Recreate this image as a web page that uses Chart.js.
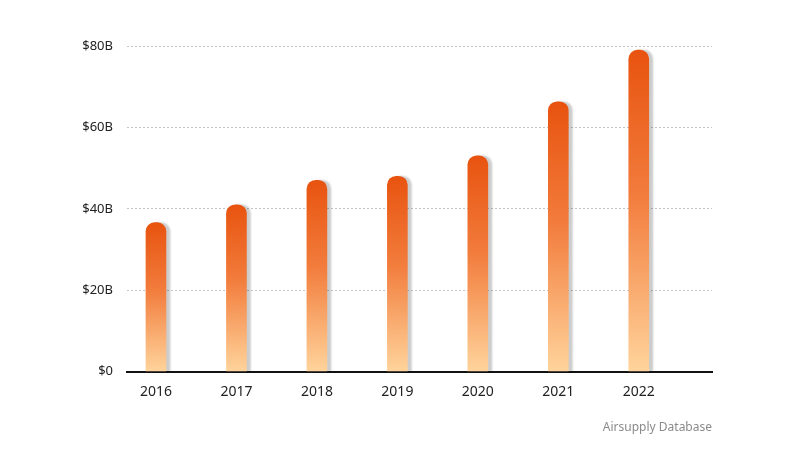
<!DOCTYPE html>
<html>
<head>
<meta charset="utf-8">
<script src="https://cdn.jsdelivr.net/npm/chart.js@4.4.1/dist/chart.umd.min.js"></script>
<style>
  html, body { margin: 0; padding: 0; background: #fff; }
  #wrap { width: 800px; height: 455px; }
</style>
</head>
<body>
<div id="wrap"><canvas id="revenue-chart" width="800" height="455"></canvas></div>
<script>
// data (billions of dollars)
const years = [2016, 2017, 2018, 2019, 2020, 2021, 2022];
const revenue = [36.6, 41.0, 47.0, 48.0, 53.0, 66.3, 79.0];
const yTicks = [0, 20, 40, 60, 80];
const sourceNote = "Airsupply Database";

const topColor = "#e8530f";
const midColor = "#f27c3c";
const bottomColor = "#ffd49c";

// gradient per bar, dark at the top of each bar
const barGradient = (context) => {
  const chart = context.chart;
  const yScale = chart.scales.y;
  if (!chart.chartArea || !yScale || !context.parsed) return midColor;
  const top = yScale.getPixelForValue(context.parsed.y);
  const bottom = yScale.getPixelForValue(0);
  const g = chart.ctx.createLinearGradient(0, top, 0, bottom);
  g.addColorStop(0, topColor);
  g.addColorStop(0.45, midColor);
  g.addColorStop(1, bottomColor);
  return g;
};

// grey shadow on the right side of the bars
const barShadow = {
  id: "barShadow",
  beforeDatasetsDraw(chart) {
    const ctx = chart.ctx;
    ctx.save();
    ctx.shadowColor = "rgba(0, 0, 0, 0.2)";
    ctx.shadowOffsetX = 4;
    ctx.shadowOffsetY = 0;
    ctx.shadowBlur = 2;
  },
  afterDatasetsDraw(chart) {
    chart.ctx.restore();
  },
};

const ctx = document.getElementById("revenue-chart").getContext("2d");
new Chart(ctx, {
  type: "bar",
  data: {
    datasets: [
      {
        label: "Revenue",
        data: years.map((yr, i) => ({ x: yr, y: revenue[i] })),
        backgroundColor: barGradient,
        barThickness: 20,
        borderRadius: 9,
        borderSkipped: "bottom",
      },
    ],
  },
  plugins: [barShadow],
  options: {
    responsive: false,
    animation: false,
    layout: { padding: { left: 0, right: 88, top: 46, bottom: 20 } },
    plugins: {
      legend: { display: false },
      tooltip: { enabled: false },
      title: {
        display: true,
        text: sourceNote,
        position: "bottom",
        align: "end",
        color: "#8a8a8a",
        font: { family: "'Noto Sans', sans-serif", size: 12, weight: "normal" },
        padding: { top: 15, bottom: 0 },
      },
    },
    scales: {
      x: {
        type: "linear",
        offset: false,
        min: 2015.64,
        max: 2022.91,
        afterBuildTicks: (scale) => {
          scale.ticks = years.map((v) => ({ value: v }));
        },
        afterFit: (scale) => { scale.height = 34; },
        grid: { display: false, drawTicks: false, offset: false },
        border: { display: true, color: "#111", width: 2 },
        ticks: {
          padding: 12,
          color: "#222",
          font: { family: "'Noto Sans', sans-serif", size: 14 },
          callback: (v) => String(v),
        },
      },
      y: {
        min: 0,
        max: 80,
        afterBuildTicks: (scale) => {
          scale.ticks = yTicks.map((v) => ({ value: v }));
        },
        afterFit: (scale) => { scale.width = 127; },
        grid: {
          color: "#c4c4c4",
          lineWidth: 1,
          drawTicks: false,
        },
        border: { display: false, dash: [2, 2] },
        ticks: {
          padding: 14,
          color: "#222",
          font: { family: "'Noto Sans', sans-serif", size: 13 },
          callback: (v) => (v === 0 ? "$0" : "$" + v + "B"),
        },
      },
    },
  },
});
</script>
</body>
</html>
